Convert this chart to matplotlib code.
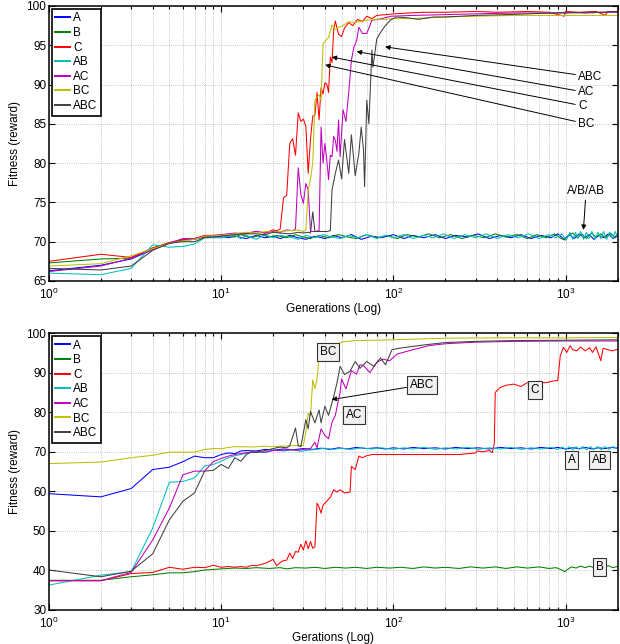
import matplotlib
matplotlib.use("Agg")
import matplotlib.pyplot as plt

# (generation, fitness) pairs
top_A = [(1, 66.3), (2, 67.0), (3, 67.8), (4, 69.0), (5, 69.8), (6, 70.2), (7, 70.3), (8, 70.6), (10, 70.6),
         (11, 70.5), (12, 70.7), (14, 70.4), (16, 70.8), (18, 70.5), (20, 70.7), (22, 70.4), (25, 70.8),
         (28, 70.5), (31, 70.3), (35, 70.7), (40, 70.4), (45, 70.8), (50, 70.5), (57, 70.9), (65, 70.3),
         (75, 70.7), (85, 70.5), (100, 70.9), (115, 70.4), (130, 70.8), (150, 70.5), (175, 70.9), (200, 70.4),
         (230, 70.8), (270, 70.6), (310, 71.0), (360, 70.4), (420, 70.8), (480, 70.5), (550, 70.9), (630, 70.4),
         (720, 70.8), (820, 70.5), (900, 71.0), (980, 70.3), (1050, 70.9), (1120, 70.4), (1200, 71.0),
         (1280, 70.5), (1370, 70.9), (1460, 70.3), (1560, 70.8), (1660, 70.5), (1770, 71.0), (1880, 70.4),
         (2000, 70.7)]
top_B = [(1, 67.3), (2, 67.8), (3, 67.9), (4, 69.2), (5, 69.8), (6, 70.2), (7, 70.3), (8, 70.7), (10, 70.8),
         (12, 70.6), (13, 70.9), (15, 70.5), (17, 70.9), (19, 70.6), (21, 70.8), (24, 70.5), (27, 70.9),
         (30, 70.6), (33, 70.4), (37, 70.8), (42, 70.5), (48, 70.9), (54, 70.6), (61, 70.4), (70, 70.9),
         (80, 70.5), (92, 70.8), (105, 70.4), (120, 70.9), (140, 70.6), (160, 71.0), (185, 70.5), (215, 70.9),
         (250, 70.4), (290, 70.8), (340, 70.5), (390, 71.0), (450, 70.6), (520, 70.9), (600, 70.4), (680, 70.9),
         (770, 70.5), (860, 71.0), (940, 70.4), (1000, 70.2), (1040, 70.8), (1100, 71.1), (1170, 70.5),
         (1240, 71.0), (1320, 70.4), (1410, 71.1), (1500, 70.6), (1600, 71.0), (1700, 70.5), (1820, 71.1),
         (1920, 70.6), (2000, 70.9)]
top_C = [(1, 67.5), (2, 68.4), (3, 68.0), (4, 69.2), (5, 69.9), (6, 70.3), (7, 70.4), (8, 70.8), (10, 70.8),
         (12, 71.0), (14, 71.1), (16, 71.3), (18, 71.1), (20, 71.5), (21, 71.4), (22, 71.6), (23, 75.6),
         (24, 75.9), (25, 82.5), (26, 83.1), (27, 81.0), (28, 86.4), (29, 85.3), (30, 85.6), (31, 84.7),
         (32, 78.7), (33, 83.1), (34, 86.0), (35, 86.1), (36, 89.0), (37, 85.5), (38, 89.6), (39, 88.8),
         (40, 90.2), (41, 90.1), (42, 89.0), (43, 93.5), (44, 92.8), (45, 97.0), (46, 98.1), (47, 97.2),
         (48, 96.4), (50, 96.1), (52, 97.2), (55, 97.9), (58, 97.5), (62, 98.3), (66, 98.0), (70, 98.7),
         (75, 98.4), (80, 98.8), (90, 98.9), (100, 99.0), (120, 99.1), (150, 99.2), (200, 99.2), (300, 99.3),
         (400, 99.2), (600, 99.3), (800, 99.2), (980, 98.7), (1000, 99.3), (1200, 99.2), (1500, 99.3),
         (1700, 98.8), (1750, 99.3), (2000, 99.3)]
top_AB = [(1, 66.0), (2, 65.8), (3, 66.6), (4, 69.6), (5, 69.3), (6, 69.4), (7, 69.7), (8, 70.5), (10, 70.5),
          (12, 70.8), (13, 70.4), (14, 70.8), (16, 70.3), (18, 70.9), (20, 70.5), (22, 70.8), (25, 70.6),
          (28, 70.3), (31, 70.8), (35, 70.5), (39, 70.9), (44, 70.6), (49, 70.4), (55, 70.8), (62, 70.5),
          (70, 70.9), (80, 70.4), (90, 70.8), (100, 70.5), (115, 70.9), (130, 70.4), (150, 70.8), (170, 70.5),
          (195, 71.0), (225, 70.4), (260, 70.9), (300, 70.5), (345, 71.0), (400, 70.4), (460, 70.9), (530, 70.5),
          (610, 71.0), (700, 70.4), (800, 70.9), (880, 70.5), (950, 71.0), (1000, 70.3), (1030, 70.6),
          (1060, 71.2), (1100, 70.3), (1140, 71.2), (1180, 70.4), (1220, 71.3), (1270, 70.3), (1320, 71.2),
          (1370, 70.4), (1420, 71.3), (1480, 70.3), (1540, 71.2), (1600, 70.4), (1660, 71.3), (1730, 70.3),
          (1800, 71.2), (1870, 70.4), (1940, 71.3), (2000, 70.6)]
top_AC = [(1, 66.2), (2, 66.9), (3, 67.9), (4, 69.0), (5, 69.8), (6, 70.4), (7, 70.4), (8, 70.7), (10, 70.9),
          (12, 71.1), (14, 71.0), (16, 71.3), (18, 71.1), (20, 71.3), (22, 71.2), (24, 71.5), (26, 71.4),
          (27, 71.6), (28, 79.4), (29, 76.0), (30, 74.9), (31, 77.4), (32, 76.6), (33, 71.3), (35, 71.3),
          (37, 71.4), (38, 84.6), (39, 80.0), (40, 82.5), (41, 80.5), (42, 77.9), (43, 81.0), (44, 80.8),
          (45, 83.4), (46, 82.9), (47, 81.5), (48, 85.5), (49, 80.8), (51, 86.8), (53, 85.3), (55, 89.0),
          (57, 93.1), (59, 94.8), (61, 95.5), (63, 97.3), (66, 96.5), (70, 96.5), (75, 98.2), (82, 98.3),
          (97, 98.7), (130, 98.8), (200, 98.9), (300, 99.0), (500, 99.1), (800, 99.1), (1000, 99.2),
          (1300, 99.1), (1600, 99.2), (2000, 99.2)]
top_BC = [(1, 66.9), (2, 67.2), (3, 68.2), (4, 69.1), (5, 69.8), (6, 70.1), (7, 70.3), (8, 70.7), (10, 70.8),
          (12, 71.0), (14, 71.2), (16, 71.1), (18, 71.3), (20, 71.2), (22, 71.3), (25, 71.4), (28, 71.5),
          (30, 71.3), (31, 71.5), (32, 76.6), (33, 78.0), (34, 80.0), (35, 88.0), (36, 88.4), (37, 88.7),
          (38, 88.0), (39, 95.2), (40, 95.5), (42, 96.0), (44, 97.6), (46, 97.0), (48, 97.3), (50, 97.4),
          (55, 98.0), (60, 97.9), (70, 98.2), (80, 98.3), (90, 98.3), (100, 98.4), (130, 98.4), (160, 98.5),
          (200, 98.6), (300, 98.7), (500, 98.8), (1000, 98.8), (2000, 98.8)]
top_ABC = [(1, 66.6), (2, 66.4), (3, 66.9), (4, 68.9), (5, 69.8), (6, 70.0), (7, 70.0), (8, 70.5), (10, 70.7),
           (12, 70.9), (14, 71.0), (16, 71.0), (18, 70.9), (20, 71.2), (22, 71.1), (25, 71.0), (28, 71.2),
           (30, 71.1), (32, 71.2), (33, 71.1), (34, 73.8), (35, 71.3), (38, 71.3), (41, 71.3), (43, 71.4),
           (44, 76.6), (46, 78.7), (48, 80.4), (50, 78.0), (52, 83.0), (55, 78.7), (57, 83.6), (60, 78.4),
           (63, 81.3), (65, 84.6), (67, 81.7), (68, 77.0), (70, 88.0), (72, 85.0), (75, 94.4), (76, 92.2),
           (80, 95.8), (84, 96.6), (89, 97.4), (96, 98.2), (104, 98.6), (120, 98.5), (140, 98.3), (170, 98.6),
           (200, 98.6), (300, 98.8), (450, 98.9), (600, 99.0), (800, 99.1), (1000, 99.1), (1300, 99.2),
           (1600, 99.2), (2000, 99.3)]

bot_A = [(1, 59.4), (2, 58.6), (3, 60.7), (4, 65.5), (5, 66.1), (6, 67.5), (7, 68.9), (8, 68.5), (9, 68.5),
         (10, 69.3), (11, 69.7), (12, 69.5), (13, 70.2), (14, 70.3), (16, 70.2), (18, 70.6), (20, 70.4),
         (23, 70.7), (26, 70.5), (30, 70.8), (34, 70.6), (38, 70.9), (43, 70.6), (48, 71.0), (54, 70.7),
         (61, 71.1), (70, 70.8), (80, 71.0), (90, 70.7), (100, 71.0), (115, 70.7), (130, 71.1), (150, 70.8),
         (175, 71.0), (200, 70.7), (230, 71.1), (270, 70.8), (310, 71.0), (360, 70.7), (420, 71.1), (480, 70.8),
         (550, 71.0), (630, 70.7), (720, 71.1), (820, 70.8), (900, 71.1), (1000, 70.7), (1100, 71.0),
         (1200, 70.8), (1300, 71.1), (1420, 70.7), (1550, 71.0), (1700, 70.8), (1850, 71.1), (2000, 70.9)]
bot_B = [(1, 37.5), (2, 37.5), (3, 38.4), (4, 38.9), (5, 39.4), (6, 39.4), (7, 39.7), (8, 40.1), (10, 40.4),
         (12, 40.6), (14, 40.5), (16, 40.7), (19, 40.5), (22, 40.7), (24, 40.4), (27, 40.7), (31, 40.6),
         (35, 40.8), (40, 40.5), (46, 40.8), (53, 40.6), (60, 40.8), (70, 40.5), (80, 40.8), (95, 40.6),
         (110, 40.8), (130, 40.5), (150, 40.9), (175, 40.6), (200, 40.8), (240, 40.5), (280, 40.9), (330, 40.6),
         (390, 40.9), (450, 40.5), (520, 40.9), (600, 40.6), (700, 40.9), (800, 40.5), (880, 40.7), (940, 40.2),
         (990, 39.7), (1030, 40.3), (1080, 40.9), (1150, 40.6), (1220, 41.1), (1300, 40.7), (1380, 41.1),
         (1470, 40.6), (1560, 41.1), (1660, 40.7), (1770, 41.2), (1880, 40.7), (2000, 41.0)]
bot_C = [(1, 37.4), (2, 37.4), (3, 39.2), (4, 39.5), (5, 40.8), (6, 40.3), (7, 40.8), (8, 40.7), (9, 41.3),
         (10, 40.8), (11, 41.0), (12, 40.8), (13, 41.0), (14, 40.8), (15, 41.3), (16, 41.2), (17, 41.5),
         (18, 41.8), (19, 42.3), (20, 42.8), (21, 41.2), (22, 42.0), (23, 42.5), (24, 42.6), (25, 44.4),
         (26, 43.0), (27, 44.8), (28, 44.6), (29, 46.6), (30, 45.2), (31, 47.5), (32, 45.5), (33, 47.3),
         (34, 45.6), (35, 46.0), (36, 57.0), (37, 56.0), (38, 54.5), (39, 56.5), (41, 57.5), (43, 58.5),
         (45, 60.4), (47, 59.8), (49, 60.4), (52, 59.6), (56, 59.8), (57, 66.3), (60, 65.5), (63, 68.9),
         (66, 68.5), (70, 69.0), (75, 69.3), (90, 69.3), (120, 69.3), (170, 69.3), (240, 69.3), (300, 69.7),
         (305, 70.2), (330, 70.0), (360, 70.3), (375, 69.8), (385, 72.0), (390, 85.0), (415, 86.2),
         (450, 86.8), (500, 87.1), (550, 86.5), (600, 87.5), (650, 87.0), (710, 87.4), (780, 87.5),
         (850, 87.9), (900, 88.0), (930, 94.2), (970, 96.4), (1015, 95.1), (1060, 96.8), (1100, 95.8),
         (1160, 95.5), (1220, 96.5), (1300, 95.5), (1380, 96.3), (1430, 95.1), (1500, 96.5), (1600, 93.0),
         (1650, 96.2), (1700, 96.0), (1800, 95.7), (1870, 95.5), (2000, 95.9)]
bot_AB = [(1, 36.3), (2, 38.8), (3, 39.7), (4, 50.7), (5, 62.3), (6, 62.5), (7, 63.4), (8, 66.4), (9, 66.8),
          (10, 67.6), (11, 68.5), (12, 69.0), (14, 69.6), (16, 70.0), (18, 69.8), (20, 70.4), (23, 70.2),
          (26, 70.5), (29, 70.1), (32, 70.4), (36, 70.6), (40, 70.9), (45, 70.6), (50, 70.9), (57, 70.6),
          (65, 71.0), (75, 70.7), (85, 71.0), (100, 70.6), (115, 71.0), (130, 70.7), (150, 71.1), (175, 70.6),
          (200, 71.0), (230, 70.7), (270, 71.1), (310, 70.6), (360, 71.0), (420, 70.7), (480, 71.1), (550, 70.6),
          (630, 71.0), (720, 70.7), (820, 71.1), (900, 70.6), (960, 71.2), (1000, 70.5), (1050, 71.3),
          (1100, 70.5), (1150, 71.3), (1200, 70.6), (1260, 71.3), (1320, 70.5), (1390, 71.3), (1460, 70.6),
          (1530, 71.3), (1610, 70.5), (1690, 71.3), (1780, 70.6), (1880, 71.3), (2000, 70.8)]
bot_AC = [(1, 37.4), (2, 37.4), (3, 39.5), (4, 47.7), (5, 55.8), (6, 64.2), (7, 65.1), (8, 65.1), (9, 67.5),
          (10, 68.3), (11, 68.9), (12, 69.3), (14, 69.8), (16, 70.0), (18, 69.9), (20, 70.3), (23, 70.4),
          (25, 70.5), (28, 70.4), (30, 70.6), (33, 70.8), (35, 72.4), (36, 71.0), (38, 75.8), (40, 74.1),
          (42, 73.3), (44, 77.5), (46, 79.2), (47, 81.3), (49, 85.0), (50, 88.4), (53, 85.9), (57, 90.5),
          (61, 89.6), (64, 92.0), (67, 91.8), (73, 90.0), (80, 92.6), (87, 93.4), (95, 93.0), (105, 94.7),
          (130, 95.8), (160, 96.8), (200, 97.3), (300, 97.7), (500, 97.9), (1000, 98.0), (2000, 98.0)]
bot_BC = [(1, 67.0), (2, 67.4), (3, 68.5), (4, 69.1), (5, 69.9), (6, 69.9), (7, 69.9), (8, 70.6), (9, 70.8),
          (10, 70.8), (12, 71.3), (15, 71.2), (18, 71.4), (20, 71.3), (25, 71.5), (28, 71.6), (30, 71.6),
          (31, 75.0), (32, 79.8), (33, 79.0), (34, 88.2), (35, 86.0), (36, 88.4), (37, 93.5), (38, 93.3),
          (41, 94.5), (44, 96.5), (47, 97.3), (49, 97.5), (51, 97.8), (60, 98.1), (100, 98.3), (200, 98.7),
          (400, 98.8), (1000, 98.8), (2000, 98.9)]
bot_ABC = [(1, 40.1), (2, 38.4), (3, 39.8), (4, 44.2), (5, 52.8), (6, 57.5), (7, 59.6), (8, 65.1), (9, 65.3),
           (10, 66.8), (11, 65.8), (12, 68.5), (13, 67.6), (14, 69.3), (15, 70.0), (16, 69.8), (18, 70.3),
           (20, 70.8), (22, 71.2), (24, 71.0), (25, 71.5), (27, 76.0), (28, 71.5), (29, 71.3), (31, 78.1),
           (32, 75.8), (33, 80.2), (35, 77.3), (37, 80.6), (38, 77.3), (40, 81.5), (42, 79.2), (45, 84.0),
           (47, 87.4), (49, 91.6), (52, 89.5), (56, 90.4), (60, 92.8), (64, 91.1), (70, 92.8), (77, 91.6),
           (84, 93.7), (90, 92.0), (98, 95.8), (109, 96.2), (150, 97.0), (200, 97.6), (300, 97.9), (500, 98.1),
           (1000, 98.2), (2000, 98.3)]

labels = ["A", "B", "C", "AB", "AC", "BC", "ABC"]
colors = ["#0000ff", "#008000", "#ff0000", "#00bfbf", "#bf00bf", "#bfbf00", "#404040"]

plt.rcParams["font.family"] = ["Liberation Sans", "DejaVu Sans"]
plt.rcParams["mathtext.fontset"] = "custom"
plt.rcParams["mathtext.rm"] = "Liberation Sans"
plt.rcParams["mathtext.it"] = "Liberation Sans:italic"
plt.rcParams["font.size"] = 8.5

fig = plt.figure(figsize=(6.2, 6.44), dpi=100)
ax1 = fig.add_axes([0.079, 0.5637, 0.917, 0.427])
ax2 = fig.add_axes([0.079, 0.0528, 0.917, 0.430])


def draw(ax, series, ylim, yticks, xlabel):
    for s, lab, c in zip(series, labels, colors):
        g, v = zip(*s)
        ax.plot(g, v, color=c, lw=0.75, label=lab)
    ax.set_xscale("log")
    ax.set_xlim(1, 2000)
    ax.set_ylim(*ylim)
    ax.set_yticks(yticks)
    ax.grid(True, axis="x", which="both", ls=":", color="#b0b0b0", lw=0.6)
    ax.grid(True, axis="y", which="major", ls=":", color="#b0b0b0", lw=0.6)
    ax.tick_params(which="both", direction="in", top=True, right=True, width=0.8)
    ax.tick_params(which="major", length=4)
    ax.tick_params(axis="x", which="major", pad=4)
    ax.tick_params(axis="y", which="major", pad=2)
    ax.tick_params(which="minor", length=2)
    for sp in ax.spines.values():
        sp.set_linewidth(1.1)
    ax.set_xlabel(xlabel, labelpad=1)
    ax.set_ylabel("Fitness (reward)", labelpad=4)
    leg = ax.legend(loc="upper left", fancybox=False, framealpha=1, edgecolor="k",
                    borderaxespad=0.25, handlelength=1.2, handletextpad=0.3,
                    labelspacing=0.22, borderpad=0.3)
    leg.get_frame().set_linewidth(1.2)
    for h in leg.get_lines():
        h.set_linewidth(1.4)


draw(ax1, [top_A, top_B, top_C, top_AB, top_AC, top_BC, top_ABC], (65, 100),
     range(65, 101, 5), "Generations (Log)")
draw(ax2, [bot_A, bot_B, bot_C, bot_AB, bot_AC, bot_BC, bot_ABC], (30, 100),
     range(30, 101, 10), "Gerations (Log)")

arrow = dict(arrowstyle="-|>", color="k", lw=0.7, mutation_scale=7, shrinkA=0, shrinkB=0)

# top panel arrows: (text, point, text position)
top_notes = [("ABC", (89.4, 94.8), (1180, 91.0)),
             ("AC", (61.2, 94.2), (1180, 89.0)),
             ("C", (43.8, 93.5), (1180, 87.3)),
             ("BC", (40.1, 92.5), (1180, 85.0))]
for txt, xy, xyt in top_notes:
    ax1.annotate(txt, xy=xy, xytext=xyt, ha="left", va="center", arrowprops=arrow)
ax1.annotate("A/B/AB", xy=(1268, 71.5), xytext=(1313, 76.4), ha="center", va="center",
             arrowprops=arrow)

box = dict(boxstyle="square,pad=0.25", fc="#f0f0f0", ec="#333333", lw=0.8)
bot_notes = [("BC", (41.7, 95.3)), ("AC", (59.1, 79.3)), ("C", (664, 85.6)),
             ("A", (1082, 68.0)), ("AB", (1574, 68.0)), ("B", (1574, 40.9))]
for txt, xy in bot_notes:
    ax2.text(xy[0], xy[1], txt, ha="center", va="center", bbox=box)
ax2.annotate("ABC", xy=(43.8, 83.2), xytext=(146.6, 86.9), ha="center", va="center",
             bbox=box, arrowprops=arrow)

fig.savefig("out.png", dpi=100)
